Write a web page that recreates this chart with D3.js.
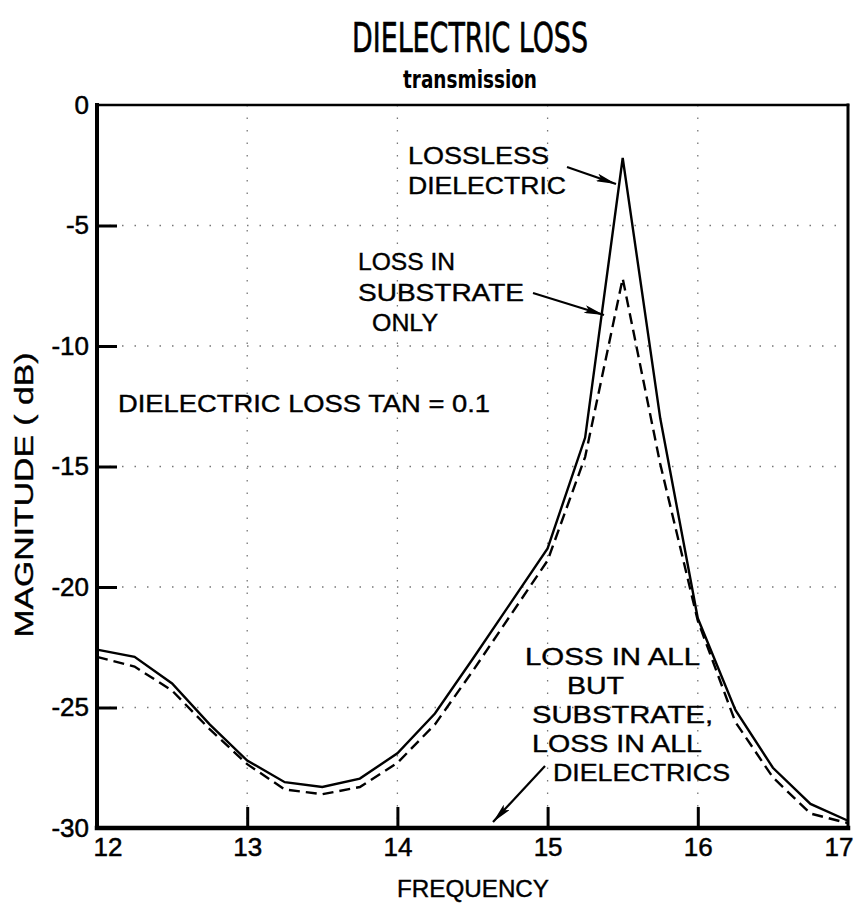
<!DOCTYPE html>
<html><head><meta charset="utf-8">
<script src="https://cdn.jsdelivr.net/npm/d3@7/dist/d3.min.js"></script>
<style>body{margin:0;background:#fff}</style>
</head><body>
<svg id="chart" width="854" height="907"></svg>
<script>
// ---- data ----
const frequency = [12, 12.25, 12.5, 12.75, 13, 13.25, 13.5, 13.75, 14, 14.25, 14.5, 14.75, 15, 15.25, 15.5, 15.75, 16, 16.25, 16.5, 16.75, 17];
const losslessDielectric = [-22.6, -22.9, -24.0, -25.7, -27.2, -28.1, -28.3, -27.95, -26.9, -25.25, -23.0, -20.7, -18.4, -13.8, -2.2, -13.0, -21.3, -25.1, -27.5, -29.0, -29.7];
const lossInSubstrateOnly = [-22.9, -23.3, -24.3, -25.9, -27.35, -28.4, -28.6, -28.3, -27.3, -25.7, -23.5, -21.2, -18.9, -14.6, -7.2, -14.9, -21.4, -25.6, -27.9, -29.4, -29.8];
const lossInAllButSubstrate = [-30, -30, -30, -30, -30, -30, -30, -30, -30, -30, -30, -30, -30, -30, -30, -30, -30, -30, -30, -30, -30];
const lossInAllDielectrics = [-30, -30, -30, -30, -30, -30, -30, -30, -30, -30, -30, -30, -30, -30, -30, -30, -30, -30, -30, -30, -30];
const xTickValues = [12, 13, 14, 15, 16, 17];
const yTickValues = [0, -5, -10, -15, -20, -25, -30];
const xGridValues = [13, 14, 15, 16];
const yGridValues = [-5, -10, -15, -20, -25];

// ---- layout ----
const svg = d3.select("#chart");
const L = 97, R = 848, T = 105, B = 828;
const x = d3.scaleLinear().domain([12, 17]).range([L, R]);
const y = d3.scaleLinear().domain([-30, 0]).range([B, T]);
const font = "'Liberation Sans', Arial, Helvetica, sans-serif";
const narrow = "'Liberation Sans Narrow', 'DejaVu Sans Condensed', 'Liberation Sans', sans-serif";

// title
svg.append("text").attr("x", 470).attr("y", 52).attr("text-anchor", "middle")
  .attr("font-family", narrow).attr("font-size", 41)
  .attr("stroke", "#000").attr("stroke-width", 0.6)
  .attr("textLength", 236).attr("lengthAdjust", "spacingAndGlyphs")
  .text("DIELECTRIC LOSS");
svg.append("text").attr("x", 470).attr("y", 88).attr("text-anchor", "middle")
  .attr("font-family", narrow).attr("font-weight", "bold").attr("font-size", 25)
  .attr("textLength", 134).attr("lengthAdjust", "spacingAndGlyphs")
  .text("transmission");

// grid
const grid = svg.append("g").attr("stroke", "#777").attr("stroke-width", 1.3)
  .attr("stroke-dasharray", "1.5,11").attr("fill", "none");
grid.selectAll("line.v").data(xGridValues).join("line")
  .attr("x1", d => x(d)).attr("x2", d => x(d)).attr("y1", y(0)).attr("y2", y(-30));
grid.selectAll("line.h").data(yGridValues).join("line")
  .attr("y1", d => y(d)).attr("y2", d => y(d)).attr("x1", x(12)).attr("x2", x(17));

// axes
const fmt = d => String(d).replace("\u2212", "-");
const yAxis = d3.axisLeft(y).tickValues(yTickValues).tickSize(-20).tickPadding(8).tickFormat(fmt);
const xAxis = d3.axisBottom(x).tickValues(xTickValues).tickSize(-21).tickPadding(10).tickFormat(fmt);
const gy = svg.append("g").attr("transform", `translate(${L},0)`).call(yAxis);
const gx = svg.append("g").attr("transform", `translate(0,${B})`).call(xAxis);
[gy, gx].forEach(g => {
  g.select(".domain").remove();
  g.selectAll(".tick line").attr("stroke", "#000").attr("stroke-width", 3);
  g.selectAll(".tick text").attr("font-family", font).attr("font-size", 26).attr("fill", "#000")
    .attr("stroke", "#000").attr("stroke-width", 0.5);
});
gy.selectAll(".tick").filter(d => d === 0 || d === -30).select("line").remove();
gx.selectAll(".tick").filter(d => d === 12 || d === 17).select("line").remove();
gx.selectAll(".tick").filter(d => d === 12).select("text").attr("text-anchor", "start").attr("x", -4);
gx.selectAll(".tick").filter(d => d === 17).select("text").attr("text-anchor", "end").attr("x", 5);

// series
const line = d3.line().x((d, i) => x(frequency[i])).y(d => y(d));
svg.append("path").datum(lossInAllButSubstrate).attr("d", line)
  .attr("fill", "none").attr("stroke", "#000").attr("stroke-width", 2.4);
svg.append("path").datum(lossInAllDielectrics).attr("d", line)
  .attr("fill", "none").attr("stroke", "#000").attr("stroke-width", 2.4).attr("stroke-dasharray", "11,6");
svg.append("path").datum(losslessDielectric).attr("d", line)
  .attr("fill", "none").attr("stroke", "#000").attr("stroke-width", 2.4).attr("stroke-linejoin", "miter");
svg.append("path").datum(lossInSubstrateOnly).attr("d", line)
  .attr("fill", "none").attr("stroke", "#000").attr("stroke-width", 2.4).attr("stroke-dasharray", "11,6");

// frame
const frame = svg.append("g").attr("stroke", "#000").attr("fill", "none").attr("stroke-linecap", "square");
frame.append("line").attr("x1", L).attr("x2", R).attr("y1", T).attr("y2", T).attr("stroke-width", 2.5);
frame.append("line").attr("x1", R).attr("x2", R).attr("y1", T).attr("y2", B).attr("stroke-width", 3);
frame.append("line").attr("x1", L).attr("x2", L).attr("y1", T).attr("y2", B).attr("stroke-width", 4);
frame.append("line").attr("x1", L).attr("x2", R).attr("y1", B).attr("y2", B).attr("stroke-width", 4.5);

// axis titles
svg.append("text").attr("x", 473).attr("y", 897).attr("text-anchor", "middle")
  .attr("font-family", font).attr("font-size", 24).attr("stroke", "#000").attr("stroke-width", 0.4)
  .attr("textLength", 152).attr("lengthAdjust", "spacingAndGlyphs")
  .text("FREQUENCY");
svg.append("text").attr("transform", "translate(33,495) rotate(-90)").attr("text-anchor", "middle")
  .attr("font-family", font).attr("font-size", 26).attr("stroke", "#000").attr("stroke-width", 0.4)
  .attr("textLength", 285).attr("lengthAdjust", "spacingAndGlyphs")
  .text("MAGNITUDE ( dB)");

// annotations
svg.append("defs").append("marker").attr("id", "ah").attr("viewBox", "0 0 20 8")
  .attr("refX", 20).attr("refY", 4).attr("markerWidth", 20).attr("markerHeight", 8)
  .attr("markerUnits", "userSpaceOnUse").attr("orient", "auto")
  .append("path").attr("d", "M0,0 L20,4 L0,8 L4,4 Z").attr("fill", "#000");
const arrows = [
  [567, 167, 616, 184],
  [533, 293, 604, 315],
  [545, 766, 493, 822]
];
svg.selectAll("line.arrow").data(arrows).join("line").attr("class", "arrow")
  .attr("x1", d => d[0]).attr("y1", d => d[1]).attr("x2", d => d[2]).attr("y2", d => d[3])
  .attr("stroke", "#000").attr("stroke-width", 2.2).attr("marker-end", "url(#ah)");

const labels = [
  ["LOSSLESS", 408, 164, 141],
  ["DIELECTRIC", 408, 194, 158],
  ["LOSS IN", 358, 270, 97],
  ["SUBSTRATE", 358, 301, 166],
  ["ONLY", 372, 331, 66],
  ["DIELECTRIC LOSS TAN = 0.1", 118, 412, 372],
  ["LOSS IN ALL", 525, 665, 175],
  ["BUT", 567, 694, 57],
  ["SUBSTRATE,", 532, 723, 181],
  ["LOSS IN ALL", 532, 752, 170],
  ["DIELECTRICS", 553, 781, 177]
];
svg.selectAll("text.ann").data(labels).join("text").attr("class", "ann")
  .attr("x", d => d[1]).attr("y", d => d[2]).attr("textLength", d => d[3]).attr("lengthAdjust", "spacingAndGlyphs")
  .attr("font-family", font).attr("font-size", 24).attr("stroke", "#000").attr("stroke-width", 0.4)
  .text(d => d[0]);
</script>
</body></html>
